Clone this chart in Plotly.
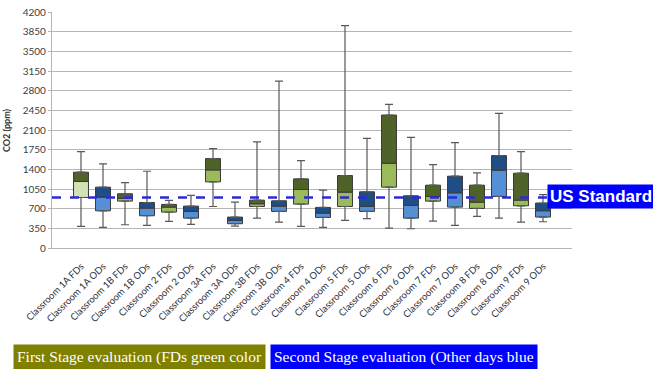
import plotly.graph_objects as go

categories = ["Classroom 1A FDs", "Classroom 1A ODs", "Classroom 1B FDs", "Classroom 1B ODs",
              "Classroom 2 FDs", "Classroom 2 ODs", "Classroom 3A FDs", "Classroom 3A ODs",
              "Classroom 3B FDs", "Classroom 3B ODs", "Classroom 4 FDs", "Classroom 4 ODs",
              "Classroom 5 FDs", "Classroom 5 ODs", "Classroom 6 FDs", "Classroom 6 ODs",
              "Classroom 7 FDs", "Classroom 7 ODs", "Classroom 8 FDs", "Classroom 8 ODs",
              "Classroom 9 FDs", "Classroom 9 ODs"]
whisker_low = [384, 367, 414, 402, 473, 420, 739, 390, 532, 461, 384, 367,
               491, 521, 355, 343, 479, 402, 562, 532, 461, 467]
q1 = [899, 662, 835, 574, 639, 532, 1177, 432, 739, 651, 781, 544,
      739, 651, 1082, 532, 834, 728, 704, 917, 751, 551]
median = [1183, 905, 885, 710, 728, 651, 1390, 491, 787, 745, 1041, 621,
          994, 739, 1508, 757, 917, 982, 816, 1384, 852, 663]
q3 = [1349, 1082, 965, 810, 775, 745, 1591, 550, 852, 840, 1230, 722,
      1289, 1000, 2366, 929, 1118, 1278, 1118, 1644, 1331, 800]
whisker_high = [1715, 1497, 1165, 1366, 846, 935, 1769, 816, 1887, 2969, 1556, 1029,
                3957, 1952, 2555, 1970, 1485, 1875, 1337, 2396, 1715, 950]
us_standard = 900
y_ticks = list(range(0, 4201, 350))

GREEN_DARK, GREEN_LIGHT, GREEN_PALE = "#4f6228", "#9bbb59", "#d3e2b3"
BLUE_DARK, BLUE_LIGHT = "#1f4d86", "#5590d6"

is_fd = [c.endswith("FDs") for c in categories]
upper_colors = [GREEN_DARK if f else BLUE_DARK for f in is_fd]
lower_colors = [GREEN_LIGHT if f else BLUE_LIGHT for f in is_fd]
lower_colors[0] = GREEN_PALE

W, H = 653, 369
PL, PR, PT, PB = 52, 572, 12, 248   # plot area in px
PW, PH = PR - PL, PB - PT

def px_x(x):  # px -> paper x
    return (x - PL) / PW

def px_y(y):  # px -> paper y
    return (PB - y) / PH

fig = go.Figure()
fig.add_trace(go.Scatter(
    x=categories, y=q3, mode="markers", marker=dict(size=0.1, color="rgba(0,0,0,0)"),
    error_y=dict(type="data", symmetric=False,
                 array=[h - t for h, t in zip(whisker_high, q3)],
                 arrayminus=[0] * len(q3), color="#595959", thickness=1.2, width=4),
    hoverinfo="skip", showlegend=False))
fig.add_trace(go.Scatter(
    x=categories, y=q1, mode="markers", marker=dict(size=0.1, color="rgba(0,0,0,0)"),
    error_y=dict(type="data", symmetric=False,
                 array=[0] * len(q1),
                 arrayminus=[a - l for a, l in zip(q1, whisker_low)],
                 color="#595959", thickness=1.2, width=4),
    hoverinfo="skip", showlegend=False))
fig.add_trace(go.Bar(
    x=categories, y=[m - a for m, a in zip(median, q1)], base=q1, width=0.68,
    marker=dict(color=lower_colors, line=dict(color="#3a3a3a", width=1)),
    showlegend=False))
fig.add_trace(go.Bar(
    x=categories, y=[t - m for t, m in zip(q3, median)], base=median, width=0.68,
    marker=dict(color=upper_colors, line=dict(color="#3a3a3a", width=1)),
    showlegend=False))

fig.add_shape(type="line", xref="paper", yref="y", x0=0, x1=px_x(548),
              y0=us_standard, y1=us_standard,
              line=dict(color="#2b2bd6", width=2.5, dash="dash"))

fig.add_annotation(text="<b>US Standard</b>", xref="paper", yref="paper",
                   x=px_x(547), y=px_y(196.5), xanchor="left", yanchor="middle",
                   showarrow=False, bgcolor="#0000ff", borderpad=2,
                   font=dict(family="Liberation Sans, Arial", size=17, color="white"))
fig.add_annotation(text="<b>CO2 (ppm)</b>", xref="paper", yref="paper",
                   x=px_x(6), y=0.5, textangle=-90, showarrow=False,
                   xanchor="center", yanchor="middle",
                   font=dict(family="Lato, Open Sans", size=9, color="#333333"))
fig.add_annotation(text="First Stage evaluation (FDs green color", xref="paper", yref="paper",
                   x=px_x(13), y=px_y(357), xanchor="left", yanchor="middle",
                   showarrow=False, bgcolor="#808000", borderpad=3,
                   font=dict(family="Liberation Serif, Times New Roman", size=15.5, color="white"))
fig.add_annotation(text="Second Stage evaluation (Other days blue", xref="paper", yref="paper",
                   x=px_x(270), y=px_y(357), xanchor="left", yanchor="middle",
                   showarrow=False, bgcolor="#0000ff", borderpad=3,
                   font=dict(family="Liberation Serif, Times New Roman", size=15.5, color="white"))

fig.update_layout(
    width=W, height=H, margin=dict(l=PL, r=W - PR, t=PT, b=H - PB, autoexpand=False),
    paper_bgcolor="white", plot_bgcolor="white", barmode="overlay",
    xaxis=dict(type="category", tickangle=-45, showgrid=False,
               ticks="outside", ticklen=8, tickcolor="rgba(0,0,0,0)",
               tickfont=dict(family="Lato, Open Sans", size=9.5, color="#303030"),
               showline=True, linecolor="#b5b5b5", linewidth=1.3, automargin=False),
    yaxis=dict(range=[0, 4200], tickvals=y_ticks, showgrid=True, gridcolor="#b5b5b5",
               gridwidth=1.3, showline=True, linecolor="#b5b5b5", linewidth=1.3,
               ticks="outside", ticklen=3, tickcolor="#b5b5b5", zeroline=False,
               automargin=False, ticklabeloverflow="allow",
               tickfont=dict(family="Lato, Open Sans", size=10, color="#404040")),
)
fig.write_html("out.html", config={"displayModeBar": False},
               post_script="document.body.style.margin='0';")
